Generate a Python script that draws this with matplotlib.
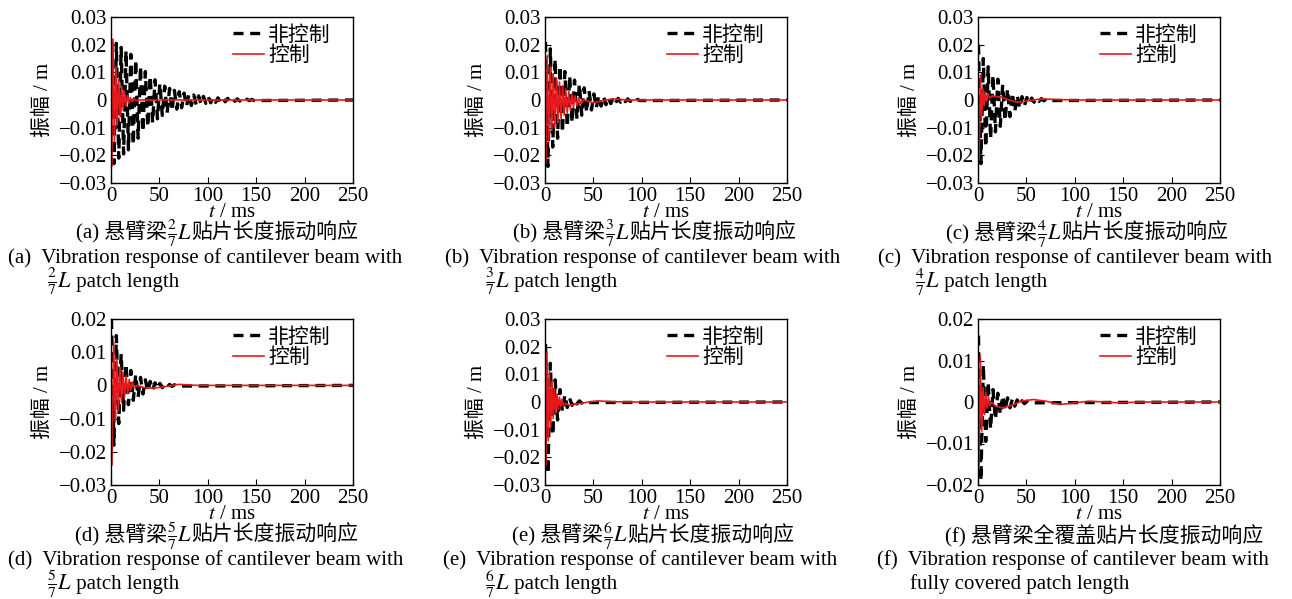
import numpy as np
import matplotlib.pyplot as plt
from matplotlib.ticker import FuncFormatter
from matplotlib.offsetbox import TextArea, HPacker, AnnotationBbox

plt.rcParams['font.family'] = ['Liberation Serif', 'Noto Sans CJK SC']
plt.rcParams['mathtext.fontset'] = 'stix'

# ---- data ----
# uncontrolled response: alternating peaks, one every 2.5 ms starting at 0.5 ms
black_t0 = 0.5
black_dt = 2.5

black_a = [0.021, -0.023, 0.0205, -0.021, 0.019, -0.0195, 0.0178, -0.018, 0.0165, -0.0162,
           0.0145, -0.0138, 0.0122, -0.0115, 0.0103, -0.0097, 0.0087, -0.0082, 0.0073, -0.0068,
           0.006, -0.0056, 0.005, -0.0047, 0.0042, -0.0039, 0.0035, -0.0033, 0.003, -0.0028,
           0.0025, -0.0023, 0.0021, -0.002, 0.0018, -0.0017, 0.0015, -0.0014, 0.0013, -0.0012,
           0.0011, -0.001, 0.0009, -0.00085, 0.0008, -0.00075, 0.0007, -0.00065, 0.0006, -0.00055,
           0.0005, -0.00045, 0.0004, -0.0004, 0.00035, -0.0003, 0.0003, -0.00025, 0.0002, -0.0002]
black_b = [0.021, -0.024, 0.0185, -0.017, 0.0148, -0.0138, 0.0123, -0.0118, 0.0103, -0.0098,
           0.0088, -0.0082, 0.0072, -0.0068, 0.0058, -0.0055, 0.0044, -0.0044, 0.0033, -0.0036,
           0.0022, -0.0028, 0.0016, -0.0022, 0.0012, -0.0017, 0.0009, -0.0013, 0.0008, -0.001,
           0.0006, -0.0008, 0.0005, -0.0006, 0.0004, -0.0005, 0.0003, -0.0004, 0.0002, -0.0002]
black_c = [0.02, -0.023, 0.015, -0.017, 0.012, -0.014, 0.009, -0.0115, 0.0075, -0.0095,
           0.0055, -0.0075, 0.004, -0.006, 0.0026, -0.0042, 0.0017, -0.003, 0.0012, -0.002,
           0.0009, -0.0013, 0.0007, -0.0008, 0.0006, -0.0005, 0.0005, -0.0003, 0.0003, -0.0002]
black_d = [0.02, -0.018, 0.015, -0.0115, 0.0095, -0.0075, 0.0065, -0.0058, 0.0045, -0.0045,
           0.0032, -0.0035, 0.0024, -0.0026, 0.0017, -0.0019, 0.0012, -0.0014, 0.0008, -0.001,
           0.0006, -0.0007, 0.0004, -0.0005, 0.0003, -0.0003, 0.0002, -0.0002]
black_e = [0.021, -0.026, 0.014, -0.012, 0.008, -0.0065, 0.0045, -0.0035, 0.0025, -0.002,
           0.0013, -0.0012, 0.0008, -0.0007, 0.0004, -0.0004, 0.0002, -0.0002]
black_f = [0.016, -0.019, 0.009, -0.0095, 0.0048, -0.0065, 0.003, -0.0042, 0.0021, -0.003,
           0.0015, -0.002, 0.001, -0.0014, 0.0007, -0.001, 0.0005, -0.0006, 0.0003, -0.0004,
           0.0002, -0.0002]

# controlled response: (time ms, amplitude m)
red_t_a = [0, 0.6, 2.0, 3.5, 5, 6.5, 8, 9.5, 11, 12.5, 14, 15.5, 17, 18.5, 20, 22, 24, 26, 30, 250]
red_y_a = [0, -0.024, 0.022, -0.015, 0.012, -0.009, 0.0075, -0.006, 0.005, -0.0035,
           0.003, -0.002, 0.0016, -0.0012, 0.0009, -0.0006, 0.0004, -0.0002, 0, 0]
red_t_b = [0, 0.8, 2.2, 3.8, 5.4, 7, 8.6, 10.2, 11.8, 13.4, 15, 16.6, 18.2, 19.8, 21.4,
           23, 24.6, 26.2, 27.8, 29.4, 31, 33, 35, 37, 40, 50, 60, 70, 85, 250]
red_y_b = [0, -0.022, 0.016, -0.015, 0.012, -0.011, 0.0095, -0.0098, 0.008, -0.0082,
           0.0065, -0.0068, 0.0052, -0.0055, 0.004, -0.0045, 0.003, -0.0036, 0.0022, -0.0028,
           0.0015, -0.002, 0.0008, -0.0014, 0, -0.001, -0.0002, 0.0004, 0, 0]
red_t_c = [0, 1.2, 2.5, 3.8, 5, 6.2, 7.4, 8.6, 10, 12, 15, 20, 25, 30, 40, 50, 65, 80, 100, 250]
red_y_c = [0, -0.02, 0.009, -0.006, 0.004, -0.002, 0.003, -0.0005, 0.0022, 0.0008,
           0.0015, 0.0012, 0.001, 0.0003, -0.0008, -0.0004, 0.0004, 0.0002, 0, 0]
red_t_d = [0, 1.0, 2.8, 4.4, 6, 7.6, 9.2, 10.8, 12.4, 14, 15.6, 17.2, 18.8, 20.4, 22,
           24, 27, 35, 45, 55, 70, 90, 250]
red_y_d = [0, -0.024, 0.013, -0.011, 0.008, -0.0075, 0.0055, -0.005, 0.004, -0.0035,
           0.0028, -0.0025, 0.0018, -0.0015, 0.001, -0.0008, 0, -0.0007, -0.0008, -0.0004,
           0.0003, 0, 0]
red_t_e = [0, 0.8, 2.0, 3.3, 4.6, 5.9, 7.2, 8.5, 9.8, 11.1, 12.4, 13.7, 15, 16.3, 17.6,
           19, 21, 25, 35, 45, 55, 70, 90, 250]
red_y_e = [0, -0.023, 0.018, -0.014, 0.011, -0.009, 0.0075, -0.006, 0.0048, -0.004,
           0.003, -0.0026, 0.0018, -0.0017, 0.001, -0.0012, -0.0005, -0.0012, -0.0006, 0,
           0.0004, 0.0001, 0, 0]
red_t_f = [0, 1.0, 2.4, 3.8, 5.2, 6.6, 8, 9.4, 10.8, 12.2, 14, 18, 25, 35, 45, 57, 70,
           85, 100, 115, 130, 145, 170, 250]
red_y_f = [0, -0.016, 0.011, -0.007, 0.0035, -0.003, 0.0022, -0.0015, 0.0012, -0.0008,
           0, -0.001, -0.0014, -0.0008, 0.0002, 0.0006, 0.0002, -0.0006, -0.0002, 0.0002,
           0, -0.0002, 0, 0]

black_series = [black_a, black_b, black_c, black_d, black_e, black_f]
red_series = [(red_t_a, red_y_a), (red_t_b, red_y_b), (red_t_c, red_y_c),
              (red_t_d, red_y_d), (red_t_e, red_y_e), (red_t_f, red_y_f)]

tags = ['a', 'b', 'c', 'd', 'e', 'f']
numerators = ['2', '3', '4', '5', '6', None]
y_ticks = [[-0.03, -0.02, -0.01, 0, 0.01, 0.02, 0.03]] * 3 + \
          [[-0.03, -0.02, -0.01, 0, 0.01, 0.02],
           [-0.03, -0.02, -0.01, 0, 0.01, 0.02, 0.03],
           [-0.02, -0.01, 0, 0.01, 0.02]]
x_ticks = [0, 50, 100, 150, 200, 250]
legend_labels = ['非控制', '控制']

# ---- layout (pixels of a 1292x599 canvas) ----
W, H = 1292, 599
fig = plt.figure(figsize=(W / 100, H / 100), dpi=100)

col_left = [111, 545, 978]
row_top = [17, 319]
ax_w, ax_h = 242, 166
cn_center = [217, 655, 1087, 217, 653, 1104]
en_left = [8, 445, 878, 8, 443, 877]
en2_left = [47, 485, 915, 47, 485, 910]
fs = 15
frac_fs = 16


def fmt(v, pos):
    if abs(v) < 1e-12:
        return '0'
    return ('%.2f' % v).replace('-', '\u2212')


def fig_text_box(box, x_px, y_px, ha):
    ab = AnnotationBbox(box, (x_px / W, 1 - y_px / H), xycoords='figure fraction',
                        frameon=False, box_alignment=(ha, 0.5), pad=0)
    fig.add_artist(ab)


def frac_pieces(num):
    return [TextArea('$\\frac{%s}{7}$' % num, textprops=dict(fontsize=frac_fs)),
            TextArea('$L$', textprops=dict(fontsize=fs + 1))]


for i in range(6):
    r, c = divmod(i, 3)
    left = col_left[c]
    top = row_top[r]
    ax = fig.add_axes([left / W, 1 - (top + ax_h) / H, ax_w / W, ax_h / H])

    pk = black_series[i]
    bt = np.append(black_t0 + black_dt * np.arange(len(pk)), 250)
    by = np.append(pk, 0)
    l1, = ax.plot(bt, by, color='k', lw=2.4, ls=(0, (3, 2)))
    rt, ry = red_series[i]
    l2, = ax.plot(rt, ry, color='#e8191c', lw=1.2)

    ax.set_xlim(0, 250)
    yt = y_ticks[i]
    ax.set_ylim(yt[0], yt[-1])
    ax.set_xticks(x_ticks)
    ax.set_yticks(yt)
    ax.yaxis.set_major_formatter(FuncFormatter(fmt))
    ax.tick_params(direction='in', length=4, labelsize=fs, pad=3)
    for s in ax.spines.values():
        s.set_linewidth(1.0)

    ax.set_xlabel('$t$ / ms', fontsize=fs, labelpad=-2)
    ax.set_ylabel('振幅 / m', fontsize=fs, labelpad=4)

    ax.legend([l1, l2], legend_labels, loc='upper right', bbox_to_anchor=(0.96, 1.02),
              frameon=False, fontsize=fs, handlelength=1.5, handletextpad=0.2,
              labelspacing=0.05, borderaxespad=0.2)

    # captions
    base = 234 + 302 * r
    tag = '(%s) ' % tags[i]
    num = numerators[i]
    tp = dict(fontsize=fs)
    if num is not None:
        box = HPacker(children=[TextArea(tag + '悬臂梁', textprops=tp)] + frac_pieces(num) +
                      [TextArea('贴片长度振动响应', textprops=tp)],
                      align='baseline', pad=0, sep=0)
        box2 = HPacker(children=frac_pieces(num) + [TextArea(' patch length', textprops=tp)],
                       align='baseline', pad=0, sep=0)
    else:
        box = TextArea(tag + '悬臂梁全覆盖贴片长度振动响应', textprops=tp)
        box2 = TextArea('fully covered patch length', textprops=tp)
    fig_text_box(box, cn_center[i], base, 0.5)
    fig.text(en_left[i] / W, 1 - (base + 24) / H,
             tag + ' Vibration response of cantilever beam with',
             fontsize=fs, ha='left', va='center')
    fig_text_box(box2, en2_left[i], base + 48, 0.0)

fig.savefig('out.png', dpi=100)
